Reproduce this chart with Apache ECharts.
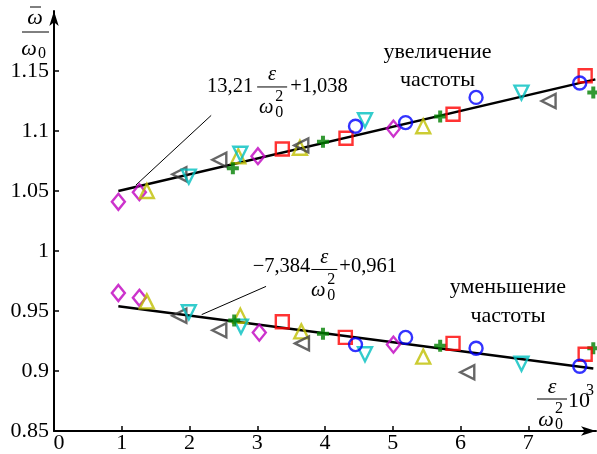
<!DOCTYPE html>
<html>
<head>
<meta charset="utf-8">
<script src="https://cdn.jsdelivr.net/npm/echarts@6/dist/echarts.min.js"></script>
<style>
  html, body { margin: 0; padding: 0; background: #fff; }
  #main { width: 597px; height: 454px; }
</style>
</head>
<body>
<div id="main"></div>
<script>
// оси
const xTicks = [0, 1, 2, 3, 4, 5, 6, 7];
const yTicks = [0.85, 0.9, 0.95, 1, 1.05, 1.1, 1.15];

// экспериментальные точки (верхняя ветвь, затем нижняя)
const diamondPts = [[0.95, 1.041], [1.26, 1.049], [3.01, 1.079], [5.01, 1.102],
                    [0.95, 0.965], [1.26, 0.961], [3.03, 0.932], [5.01, 0.922]];
const trianglePts = [[1.37, 1.050], [2.72, 1.079], [3.63, 1.086], [5.45, 1.104],
                     [1.37, 0.958], [2.75, 0.946], [3.65, 0.933], [5.45, 0.912]];
const leftPts = [[1.85, 1.064], [2.44, 1.076], [3.65, 1.088], [7.30, 1.125],
                 [1.85, 0.946], [2.44, 0.934], [3.66, 0.923], [6.10, 0.899]];
const downPts = [[1.99, 1.062], [2.75, 1.081], [4.59, 1.109], [6.90, 1.132],
                 [1.99, 0.949], [2.76, 0.937], [4.59, 0.914], [6.90, 0.906]];
const plusPts = [[2.64, 1.069], [3.97, 1.091], [5.70, 1.112], [7.96, 1.132],
                 [2.66, 0.942], [3.97, 0.931], [5.70, 0.921], [7.96, 0.919]];
const squarePts = [[3.37, 1.085], [4.31, 1.094], [5.89, 1.114], [7.84, 1.146],
                   [3.37, 0.941], [4.30, 0.928], [5.89, 0.923], [7.84, 0.914]];
const circlePts = [[4.45, 1.104], [5.19, 1.107], [6.23, 1.128], [7.76, 1.140],
                   [4.45, 0.922], [5.19, 0.928], [6.23, 0.919], [7.76, 0.904]];

// аппроксимирующие прямые
const upperFit = [[0.95, 1.050], [7.99, 1.143]];
const lowerFit = [[0.95, 0.954], [7.96, 0.902]];

// выноски к формулам
const upperLeader = [[1.21, 1.055], [2.32, 1.113]];
const lowerLeader = [[2.18, 0.947], [3.13, 0.9705]];

const FONT = '"Liberation Serif", "Times New Roman", serif';
const FS = 22;      // подписи делений
const FF = 20.5;    // формулы
const FT = 22;      // текст
const SMALL = 16;

const chart = echarts.init(document.getElementById('main'));

// полый маркер
function markers(data, symbol, color, rotate) {
  return {
    type: 'scatter',
    data: data,
    symbol: symbol,
    symbolRotate: rotate || 0,
    symbolSize: symbol === 'diamond' ? [13, 16] : symbol === 'triangle' ? 14 : 13,
    clip: false,
    z: 3,
    itemStyle: { color: 'rgba(0,0,0,0)', borderColor: color, borderWidth: 2.4 }
  };
}

function fitLine(data, width) {
  return {
    type: 'line',
    data: data,
    symbol: 'none',
    silent: true,
    z: 2,
    lineStyle: { color: '#000', width: width }
  };
}

chart.setOption({
  animation: false,
  grid: { left: 54, right: 1, top: 11, bottom: 22, containLabel: false },
  xAxis: {
    type: 'value', min: 0, max: 8,
    axisLine: { show: true, onZero: false, symbol: ['none', 'arrow'], symbolSize: [7, 15],
                lineStyle: { color: '#000', width: 2 } },
    axisTick: { show: true, inside: true, length: 5, customValues: xTicks,
                lineStyle: { color: '#000', width: 1.5 } },
    axisLabel: {
      customValues: xTicks, color: '#000', fontFamily: FONT, fontSize: FS, margin: 1,
      formatter: v => v === 0 ? '{z|0}' : String(v),
      rich: { z: { fontFamily: FONT, fontSize: FS, color: '#000', padding: [0, 0, 0, 10] } }
    },
    splitLine: { show: false }
  },
  yAxis: {
    type: 'value', min: 0.85, max: 1.2,
    axisLine: { show: true, onZero: false, symbol: ['none', 'arrow'], symbolSize: [7, 15],
                lineStyle: { color: '#000', width: 2 } },
    axisTick: { show: true, inside: true, length: 5, customValues: yTicks,
                lineStyle: { color: '#000', width: 1.5 } },
    axisLabel: {
      customValues: yTicks, color: '#000', fontFamily: FONT, fontSize: FS, margin: 5,
      formatter: v => String(+v.toFixed(2))
    },
    splitLine: { show: false }
  },
  series: [
    fitLine(upperFit, 2.5),
    fitLine(lowerFit, 2.5),
    fitLine(upperLeader, 1),
    fitLine(lowerLeader, 1),
    markers(diamondPts, 'diamond', '#bf00bf'),
    markers(trianglePts, 'triangle', '#bfbf00'),
    markers(leftPts, 'triangle', '#404040', 90),
    markers(downPts, 'triangle', '#00bfbf', 180),
    {
      type: 'scatter', data: plusPts, clip: false, z: 3,
      symbol: 'path://M4,0H8V4H12V8H8V12H4V8H0V4H4Z', symbolSize: 12,
      itemStyle: { color: '#008000' }
    },
    markers(squarePts, 'rect', '#ff0000'),
    markers(circlePts, 'circle', '#0000ff')
  ]
});

// подписи
function txt(text, x, y, opt) {
  opt = opt || {};
  const size = opt.size || FF;
  return {
    type: 'text', silent: true, z: 10,
    style: {
      text: text, x: x, y: y, fill: '#000',
      font: (opt.italic ? 'italic ' : '') + size + 'px ' + FONT,
      align: opt.align || 'center', textAlign: opt.align || 'center',
      verticalAlign: 'middle', textVerticalAlign: 'middle'
    }
  };
}
function hline(x1, x2, y, w) {
  return { type: 'line', silent: true, z: 10,
           shape: { x1: x1, y1: y, x2: x2, y2: y },
           style: { stroke: '#000', lineWidth: w || 1 } };
}
// дробь ε / ω0² с центром черты в (cx, cy)
function epsFrac(cx, cy, half, out, size) {
  const s = size || FF;
  out.push(hline(cx - half, cx + half, cy));
  out.push(txt('ε', cx, cy - 12, { italic: true, size: s }));
  out.push(txt('ω', cx - 6, cy + 21, { italic: true, size: s }));
  out.push(txt('0', cx + 7, cy + 26, { size: SMALL }));
  out.push(txt('2', cx + 7, cy + 10, { size: SMALL }));
}

const px = p => chart.convertToPixel({ gridIndex: 0 }, p);
const g = [];

// формула верхней ветви
let c = px([3.22, 1.1367]);
g.push(txt('13,21', c[0] - 19, c[1], { align: 'right' }));
epsFrac(c[0], c[1], 15, g);
g.push(txt('+1,038', c[0] + 18, c[1], { align: 'left' }));

// формула нижней ветви
c = px([3.99, 0.9846]);
g.push(txt('−7,384', c[0] - 14, c[1] - 3, { align: 'right' }));
epsFrac(c[0], c[1], 13, g);
g.push(txt('+0,961', c[0] + 15, c[1] - 3, { align: 'left' }));

c = px([5.66, 1.1658]); g.push(txt('увеличение', c[0], c[1], { size: FT }));
c = px([5.66, 1.1425]); g.push(txt('частоты', c[0], c[1], { size: FT }));
c = px([6.70, 0.9697]); g.push(txt('уменьшение', c[0], c[1], { size: FT }));
c = px([6.70, 0.9458]); g.push(txt('частоты', c[0], c[1], { size: FT }));

// подпись оси Y
g.push(txt('ω', 35, 18, { italic: true, size: 22 }));
g.push(hline(30, 41, 7, 1));
g.push(hline(22, 49, 32, 1));
g.push(txt('ω', 29, 49, { italic: true, size: 22 }));
g.push(txt('0', 42, 54, { size: SMALL }));

// подпись оси X
epsFrac(552, 399, 15, g, 22);
g.push(txt('10', 568, 401, { align: 'left', size: 22 }));
g.push(txt('3', 590, 391, { size: SMALL }));

chart.setOption({ graphic: g });
</script>
</body>
</html>
